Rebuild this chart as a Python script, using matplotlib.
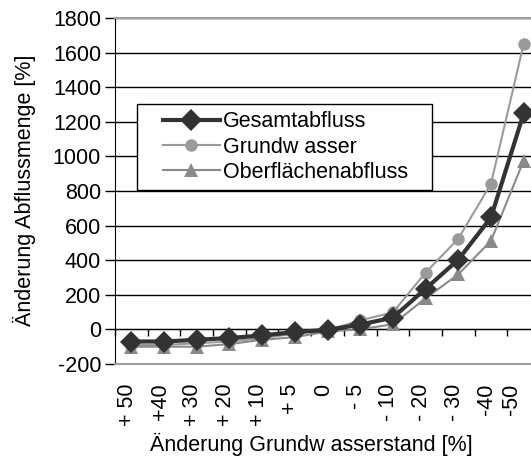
import matplotlib.pyplot as plt
import matplotlib.transforms as mtransforms
from matplotlib.legend_handler import HandlerLine2D

plt.rcParams['font.family'] = ['Liberation Sans', 'DejaVu Sans']
plt.rcParams['axes.unicode_minus'] = False

# Change of groundwater level (categories) and resulting runoff change in %
stufen = ['+ 50', '+40', '+ 30', '+ 20', '+ 10', '+ 5', '0',
          '- 5', '- 10', '- 20', '- 30', '-40', '-50']
gesamt = [-70, -70, -60, -50, -35, -15, -3, 28, 68, 235, 403, 647, 1248]
grundwasser = [-90, -90, -80, -70, -50, -25, -5, 52, 98, 328, 524, 842, 1650]
oberflaeche = [-100, -100, -100, -85, -60, -45, -12, 0, 30, 180, 318, 512, 975]

fs = 15.5


class IndentedLine(HandlerLine2D):
    """Legend line that starts a little right of the handle box."""
    indent = 13.0

    def get_xdata(self, legend, xdescent, ydescent, width, height, fontsize):
        x0 = -xdescent + self.indent
        x1 = -xdescent + width
        return [x0, x1], [(x0 + x1) / 2]


fig = plt.figure(figsize=(5.31, 4.63), dpi=100)
ax = fig.add_axes([115 / 531, 99 / 463, 425 / 531, 346 / 463])

x = range(len(stufen))

ax.plot(x, grundwasser, color='#9a9a9a', linewidth=1.5, marker='o',
        markersize=9, markeredgewidth=0, label='Grundw asser', zorder=3)
ax.plot(x, oberflaeche, color='#8a8a8a', linewidth=1.5, marker='^',
        markersize=10, markeredgewidth=0, label='Oberflächenabfluss', zorder=3)
ax.plot(x, gesamt, color='#333333', linewidth=3, marker='D',
        markersize=11, markeredgewidth=0, label='Gesamtabfluss', zorder=4)

# Axes limits and grid
ax.set_xlim(-0.5, len(stufen) - 0.5)
ax.set_ylim(-200, 1800)
ax.set_yticks(range(-200, 1801, 200))
ax.grid(True, axis='y', color='black', linewidth=1)
ax.set_axisbelow(True)

ax.set_xticks(list(x))
ax.set_xticklabels(stufen, rotation=90, fontsize=fs)
ax.tick_params(axis='x', length=0, pad=14)
ax.tick_params(axis='y', length=7, width=1, labelsize=fs, pad=3)

# shift the rotated labels a bit left, the last one more so it stays inside
for i, lbl in enumerate(ax.get_xticklabels()):
    dx = -0.12 if i == len(stufen) - 1 else -0.04
    lbl.set_transform(lbl.get_transform() +
                      mtransforms.ScaledTranslation(dx, 0, fig.dpi_scale_trans))

# Plot area frame
for side in ['top', 'right', 'bottom']:
    ax.spines[side].set_color('#a0a0a0')
    ax.spines[side].set_linewidth(1.5)
ax.spines['left'].set_color('black')

# Category axis crossing at 0 with ticks between the categories
sec = ax.secondary_xaxis(0.1)
sec.set_xticks([i - 0.5 for i in range(len(stufen) + 1)])
sec.tick_params(axis='x', length=5, width=1, labelbottom=False)
sec.spines['bottom'].set_color('black')

ax.set_ylabel('Änderung Abflussmenge [%]', fontsize=fs)
ax.set_xlabel('Änderung Grundw asserstand [%]', fontsize=fs)
ax.yaxis.set_label_coords(-0.186, 0.503)
ax.xaxis.set_label_coords(0.461, -0.2)

# Legend order: Gesamtabfluss, Grundwasser, Oberflächenabfluss
handles, labels = ax.get_legend_handles_labels()
order = [2, 0, 1]
leg = ax.legend([handles[i] for i in order], [labels[i] for i in order],
                loc='upper left', bbox_to_anchor=(0.052, 0.752, 0.694, 0.0),
                mode='expand', fontsize=fs,
                fancybox=False, framealpha=1, edgecolor='black',
                handlelength=3.5, handletextpad=0.15, labelspacing=0.2,
                borderpad=0.35, borderaxespad=0,
                handler_map={h: IndentedLine() for h in handles})
leg.get_frame().set_linewidth(1)

fig.savefig('out.png', dpi=100)
